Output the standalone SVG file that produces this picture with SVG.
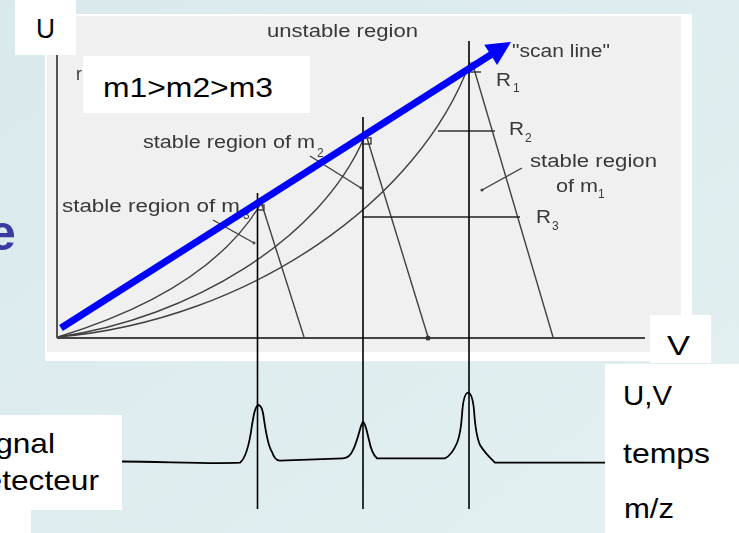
<svg xmlns="http://www.w3.org/2000/svg" width="739" height="533" viewBox="0 0 739 533">
<defs>
<linearGradient id="bg" x1="0" y1="0" x2="1" y2="1">
<stop offset="0" stop-color="#d9e9ec"/>
<stop offset="1" stop-color="#e4f0f2"/>
</linearGradient>
<filter id="soft" x="-5%" y="-5%" width="110%" height="110%"><feGaussianBlur stdDeviation="0.45"/></filter>
<style>
.scan{fill:none;stroke:#404040;stroke-width:1.4}
.stxt{font-family:"Liberation Sans",Arial,sans-serif;font-size:17.5px;fill:#383838}
.sub{font-family:"Liberation Sans",Arial,sans-serif;font-size:12px;fill:#383838}
.lbl{font-family:"Liberation Sans",Arial,sans-serif;font-size:28px;fill:#000}
.box{fill:#fff}
.vline{stroke:#000;stroke-width:1.6;fill:none}
.trace{stroke:#000;stroke-width:1.8;fill:none;stroke-linejoin:round}
</style>
</defs>
<rect x="0" y="0" width="739" height="533" fill="url(#bg)"/>
<text x="-12" y="250" font-family="Liberation Sans, Arial, sans-serif" font-size="50" font-weight="bold" fill="#3a3aa0">e</text>

<g id="plot">
<rect x="45" y="14" width="647" height="347" fill="#fff"/>
<rect x="47" y="16" width="634" height="336" fill="#f0f0f0"/>
<g id="scanned" filter="url(#soft)">
<line x1="57" y1="40" x2="57" y2="338" stroke="#555" stroke-width="2"/>
<line x1="57" y1="338" x2="645" y2="338" stroke="#444" stroke-width="2"/>
<circle cx="428" cy="338" r="2.5" fill="#333"/>
<path class="scan" d="M58,337 C120,318 215,280 260,205"/>
<path class="scan" d="M58,337 C190,318 320,240 364,138"/>
<path class="scan" d="M58,337 C250,320 420,200 470,62"/>
<path class="scan" d="M262,205 L304,337"/>
<path class="scan" d="M367,138 L428,337"/>
<path class="scan" d="M472,62 L553,337"/>
<path class="scan" d="M258,205 L264,205 L264,210 L258,210"/>
<path class="scan" d="M364,138 L371,138 L371,144 L364,144"/>
<path class="scan" d="M467,72 L481,72 M469,72 L473,63"/>
<path class="scan" d="M213,220 L254,243"/>
<circle cx="254" cy="243" r="1.4" fill="#444"/>
<path class="scan" d="M310,156 L361,188"/>
<circle cx="361" cy="188" r="1.4" fill="#444"/>
<path class="scan" d="M522,168 L482,190"/>
<circle cx="482" cy="190" r="1.6" fill="#444"/>
<line x1="438" y1="131" x2="495" y2="131" stroke="#333" stroke-width="1.6"/>
<line x1="363" y1="217" x2="520" y2="217" stroke="#222" stroke-width="1.6"/>
<text class="stxt" x="76" y="80">r</text>
<text class="stxt" x="267" y="37" textLength="151" lengthAdjust="spacingAndGlyphs">unstable region</text>
<text class="stxt" x="143" y="148" textLength="172" lengthAdjust="spacingAndGlyphs">stable region of m</text>
<text class="sub" x="317" y="157">2</text>
<text class="stxt" x="62" y="212" textLength="178" lengthAdjust="spacingAndGlyphs">stable region of m</text>
<text class="sub" x="243" y="219">3</text>
<text class="stxt" x="512" y="57" textLength="98" lengthAdjust="spacingAndGlyphs">"scan line"</text>
<text class="stxt" x="496" y="86" textLength="15" lengthAdjust="spacingAndGlyphs">R</text>
<text class="sub" x="513" y="92">1</text>
<text class="stxt" x="509" y="135" textLength="15" lengthAdjust="spacingAndGlyphs">R</text>
<text class="sub" x="525" y="142">2</text>
<text class="stxt" x="536" y="223" textLength="15" lengthAdjust="spacingAndGlyphs">R</text>
<text class="sub" x="552" y="230">3</text>
<text class="stxt" x="530" y="167" textLength="127" lengthAdjust="spacingAndGlyphs">stable region</text>
<text class="stxt" x="556" y="192" textLength="42" lengthAdjust="spacingAndGlyphs">of m</text>
<text class="sub" x="598" y="198">1</text>
</g>
</g>

<g id="connectors">
<line class="vline" x1="257.5" y1="193" x2="257.5" y2="509"/>
<line class="vline" x1="363" y1="117" x2="363" y2="509"/>
<line class="vline" x1="469" y1="41" x2="469" y2="509"/>
<g id="scan-arrow">
<line x1="61" y1="328" x2="492" y2="54" stroke="#0000ff" stroke-width="7"/>
<polygon points="511,42 484.3,44.8 497.1,65" fill="#0000ff"/>
</g>
<path id="signal" class="trace" d="M122,461.5 C170,462 215,464 240,462.7 C246,458 250,440 252,425 L254,414 C255,410 256,406 258,405 C260,405 262,408 263,413 C265,425 267,445 272,452 C274,458 276,460.5 280,460.7 L343,458.3 C348,458 351,455 353,450 C356,445 359,433 361,426 L363,421.7 C366,424 367,433 369,440 C371,450 373,455 377,458.3 L445,458.3 C450,456 454,450 457,443 C459,438 461,430 462,415 C463,400 465,393 468,392.7 C471,393 473,400 474,410 C475,425 476,436 480,445 C483,450 487,455 495,462.7 L605,462.7"/>
</g>

<g id="label-U">
<rect class="box" x="15" y="0" width="61" height="55"/>
<text class="lbl" x="36" y="38" textLength="19" lengthAdjust="spacingAndGlyphs">U</text>
</g>
<g id="label-masses">
<rect class="box" x="83" y="56" width="227" height="57"/>
<text class="lbl" x="103" y="97" textLength="170" lengthAdjust="spacingAndGlyphs">m1&gt;m2&gt;m3</text>
</g>
<g id="label-V">
<rect class="box" x="650" y="315" width="61" height="48"/>
<text class="lbl" x="667" y="355" textLength="23" lengthAdjust="spacingAndGlyphs">V</text>
</g>
<g id="label-signal">
<path class="box" d="M0,415 H122 V510 H31 V533 H0 Z"/>
<text class="lbl" x="-33" y="453" textLength="88" lengthAdjust="spacingAndGlyphs">Signal</text>
<text class="lbl" x="-33" y="490" textLength="132" lengthAdjust="spacingAndGlyphs">détecteur</text>
</g>
<g id="label-axes">
<rect class="box" x="605" y="364" width="134" height="169"/>
<text class="lbl" x="623" y="405" textLength="49" lengthAdjust="spacingAndGlyphs">U,V</text>
<text class="lbl" x="623" y="462.5" textLength="87" lengthAdjust="spacingAndGlyphs">temps</text>
<text class="lbl" x="624" y="518" textLength="50" lengthAdjust="spacingAndGlyphs">m/z</text>
</g>
</svg>
